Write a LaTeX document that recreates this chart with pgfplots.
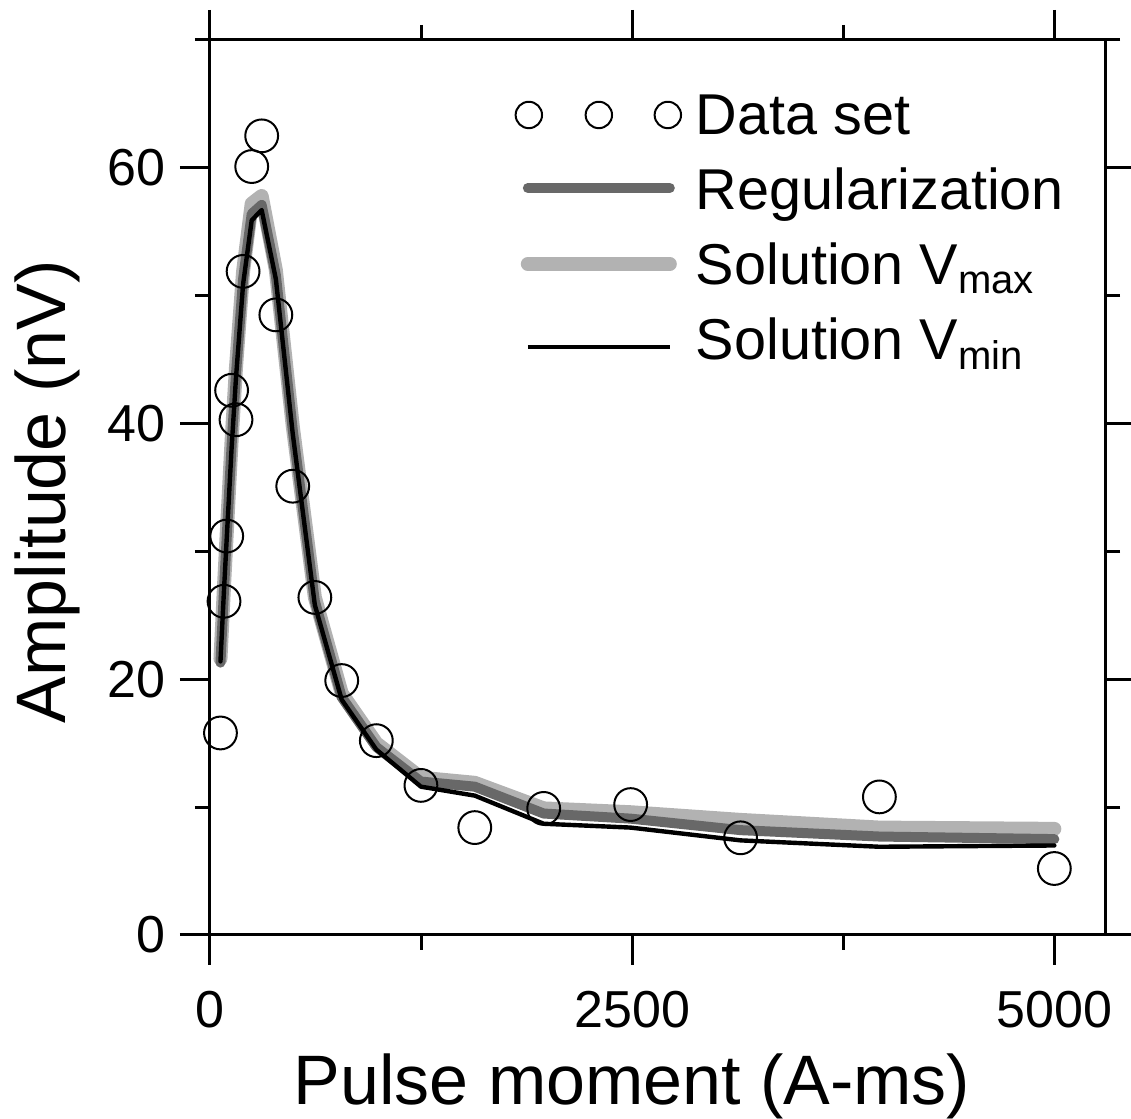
\documentclass[border=0pt]{standalone}
\usepackage{fontspec}
\setmainfont{Liberation Sans}
\usepackage{pgfplots}
\pgfplotsset{compat=1.18}
\definecolor{regc}{RGB}{104,104,104}
\definecolor{maxc}{RGB}{178,178,178}
\pgfplotsset{
  legcirc/.style={legend image code/.code={\path[draw=none,fill=none] (-4pt,-4pt) rectangle (40.5pt,4pt);
    \draw[##1, mark repeat=1] plot coordinates {(0.75pt,#1) (18.25pt,#1) (35.5pt,#1)};}},
  legline/.style={legend image code/.code={\path[draw=none,fill=none] (-4pt,-4pt) rectangle (40.5pt,4pt);
    \draw[##1] (0.5pt,#1) -- (36pt,#1);}},
}
\begin{document}
\begin{tikzpicture}
\begin{axis}[
  scale only axis, width=223.75pt, height=223.75pt,
  xmin=0, xmax=5300, ymin=0, ymax=70,
  axis line style={line width=0.75pt},
  every tick/.style={black, line width=0.75pt},
  tick align=outside,
  major tick length=7.5pt, minor tick length=3.75pt,
  xtick={0,2500,5000}, xticklabels={0,2500,5000},
  minor xtick={1250,3750},
  ytick={0,20,40,60}, yticklabels={0,20,40,60},
  minor ytick={10,30,50,70},
  /pgf/number format/assume math mode=true,
  tick label style={font=\fontsize{13}{13}\selectfont},
  xticklabel style={anchor=base, yshift=-15.75pt, inner sep=0pt},
  yticklabel style={anchor=east, xshift=-3.5pt, inner sep=0pt},
  xlabel={Pulse moment (A-ms)}, ylabel={Amplitude (nV)},
  label style={font=\fontsize{17.5}{17.5}\selectfont},
  xlabel style={at={(rel axis cs:0.4715,0)}, anchor=base, yshift=-42.5pt, inner sep=0pt},
  ylabel style={at={(rel axis cs:-0.1609,0.495)}, anchor=base, inner sep=0pt},
  legend style={draw=none, fill=none, at={(rel axis cs:0.335,0.9408)}, anchor=north west,
    inner sep=0pt, outer sep=0pt, font=\fontsize{14.4}{14.4}\selectfont,
    row sep=5.25pt, column sep=2pt,
    nodes={inner sep=0pt, text height=10.5pt, text depth=3pt}},
  legend cell align=left,
]
\coordinate (bl) at (rel axis cs:0,0);
\coordinate (tr) at (rel axis cs:1,1);

\addlegendimage{only marks, mark=o, mark size=3.3pt, line width=0.5pt, black, legcirc=1.25pt}
\addlegendentry{Data set}
\addlegendimage{regc, line width=2.5pt, line cap=round, legline=1.75pt}
\addlegendentry{Regularization}
\addlegendimage{maxc, line width=3.5pt, line cap=round, legline=1.5pt}
\addlegendentry{Solution V\textsubscript{max}}
\addlegendimage{black, line width=0.9pt, legline=-0.5pt}
\addlegendentry{Solution V\textsubscript{min}}

% Solution Vmax
\addplot[forget plot, maxc, line width=3.5pt, line join=round, line cap=round] table {
62 21.6
83 27.3
99 31.4
128 38.7
154 44.4
196 51.9
247 57.2
306 57.8
390 52.0
490 39.8
621 26.4
780 18.9
985 15.0
1249 12.3
1568 11.9
1976 9.9
2491 9.6
3142 9.0
3964 8.4
5000 8.3
};
% Regularization
\addplot[forget plot, regc, line width=2.5pt, line join=round, line cap=round] table {
62 21.3
83 27.0
99 31.1
128 38.3
154 43.9
196 51.3
247 56.4
306 57.1
390 51.6
490 39.5
621 26.1
780 18.6
985 14.7
1249 12.0
1568 11.6
1976 9.5
2491 9.1
3142 8.2
3964 7.7
5000 7.5
};
% Solution Vmin
\addplot[forget plot, black, line width=1.1pt, line join=round, line cap=round] table {
62 21.4
83 27.0
99 31.0
128 38.1
154 43.6
196 50.9
247 55.9
306 56.7
390 51.3
490 39.2
621 25.8
780 18.4
985 14.5
1249 11.6
1568 10.9
1976 8.7
2491 8.4
3142 7.4
3964 6.9
5000 7.0
};
% Data set
\addplot[forget plot, only marks, mark=o, mark size=4.1pt, black, mark options={line width=0.5pt}] table {
62 15.8
83 26.1
99 31.2
128 42.6
154 40.3
196 51.9
247 60.1
306 62.5
390 48.5
490 35.1
621 26.4
780 19.9
985 15.2
1249 11.7
1568 8.4
1976 9.9
2491 10.2
3142 7.6
3964 10.8
5000 5.2
};
\end{axis}
\pgfresetboundingbox
\path ([shift={(-52.5pt,-46pt)}]bl) rectangle ([shift={(6.5pt,10pt)}]tr);
\end{tikzpicture}
\end{document}
